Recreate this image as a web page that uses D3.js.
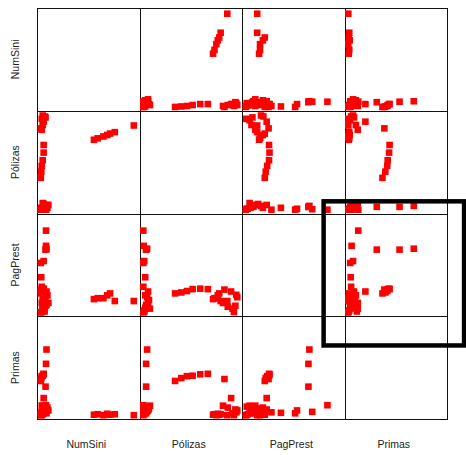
<!DOCTYPE html>
<html>
<head>
<meta charset="utf-8">
<script src="https://cdn.jsdelivr.net/npm/d3@7"></script>
<style>
  html, body { margin: 0; padding: 0; background: #fff; }
  svg { display: block; }
  text { font-family: "Liberation Sans", Arial, sans-serif; fill: #222; }
</style>
</head>
<body>
<svg id="chart" width="466" height="455"></svg>
<script>
// Variables of the scatterplot matrix
const variables = ["NumSini", "Pólizas", "PagPrest", "Primas"];

const numSini  = [0, 2, 4, 6, 8, 3, 5, 7, 1, 2, 4, 6,
                  5.5, 5.5, 5, 5.5, 6, 3, 0, 0.5,
                  0, 0.5, 1, 2, 3, 3,
                  2, 4, 1, 3, 3, 2, 0, 1, 5,
                  56, 60, 66, 70, 73, 78,
                  98];
const polizas  = [0, 1, 2, 3, 5, 6, 4, 2, 0, 7, 1, 5,
                  0, 0.5, 3, 3, 4, 1, 0, 2,
                  33.5, 40, 46, 52, 60, 68,
                  99, 98, 95.5, 94, 92.5, 89, 85.5, 84, 97,
                  73.5, 75, 77, 78.5, 80, 81.5,
                  88.5];
const pagPrest = [0, 2, 5, 8, 10, 13, 16, 18, 27, 4, 1, 22,
                  86, 70, 66, 66, 67, 54, 52, 37,
                  20, 21, 22.5, 24.5, 25, 24.5,
                  16, 18.5, 0.5, 4, 22, 6, 24, 10, 7,
                  14, 15, 15, 18, 20, 12,
                  12];
const primas   = [0, 1, 3, 2, 5, 7, 4, 8, 3, 10, 9, 6,
                  10.5, 3.5, 30, 54, 69, 5, 2, 2.5,
                  36, 39, 41, 41.5, 43, 43.5,
                  5, 3, 0, 2, 18, 8, 38, 10, 6,
                  0.5, 1, 0, 1.5, 0.5, 1,
                  0];

// Axis limits for each variable (before the 4% padding)
const axisLimits = [[0, 100], [0, 100], [0, 100], [0, 100]];

const columns = [numSini, polizas, pagPrest, primas];
const n = numSini.length;
const rows = d3.range(n).map(i => columns.map(c => c[i]));

const svg = d3.select("#chart");
svg.append("rect").attr("width", 466).attr("height", 455).attr("fill", "#fff");

const gridLeft = 37, gridTop = 8, cellW = 102.5, cellH = 102.75;
const k = variables.length;

function padded(lim) {
  const r = lim[1] - lim[0];
  return [lim[0] - 0.04 * r, lim[1] + 0.04 * r];
}

const xScales = axisLimits.map((lim, j) =>
  d3.scaleLinear().domain(padded(lim)).range([gridLeft + j * cellW, gridLeft + (j + 1) * cellW]));
const yScales = axisLimits.map((lim, i) =>
  d3.scaleLinear().domain(padded(lim)).range([gridTop + (i + 1) * cellH, gridTop + i * cellH]));

// cell frames
const cells = [];
for (let i = 0; i < k; i++) for (let j = 0; j < k; j++) cells.push({ i, j });

svg.append("g").selectAll("rect").data(cells).join("rect")
  .attr("x", d => Math.round(xScales[d.j].range()[0]) + 0.5)
  .attr("y", d => Math.round(yScales[d.i].range()[1]) + 0.5)
  .attr("width", d => Math.round(xScales[d.j].range()[1]) - Math.round(xScales[d.j].range()[0]))
  .attr("height", d => Math.round(yScales[d.i].range()[0]) - Math.round(yScales[d.i].range()[1]))
  .attr("fill", "none")
  .attr("stroke", "#111")
  .attr("stroke-width", 1);

// points
const s = 6.6;
const offDiag = cells.filter(d => d.i !== d.j);
const pg = svg.append("g");
offDiag.forEach(c => {
  pg.append("g").selectAll("rect").data(rows).join("rect")
    .attr("x", r => xScales[c.j](r[c.j]) - s / 2)
    .attr("y", r => yScales[c.i](r[c.i]) - s / 2)
    .attr("width", s)
    .attr("height", s)
    .attr("fill", "#ff0000");
});

// bottom labels
svg.append("g").selectAll("text").data(variables).join("text")
  .attr("x", (d, j) => (xScales[j].range()[0] + xScales[j].range()[1]) / 2 - 2)
  .attr("y", 448)
  .attr("text-anchor", "middle")
  .attr("font-size", "10.5px")
  .text(d => d);

// left labels
svg.append("g").selectAll("text").data(variables).join("text")
  .attr("transform", (d, i) => `translate(19,${(yScales[i].range()[0] + yScales[i].range()[1]) / 2}) rotate(-90)`)
  .attr("text-anchor", "middle")
  .attr("font-size", "10.5px")
  .text(d => d);

// highlight rectangle (PagPrest row / Primas column region)
const hx0 = xScales[3](-26), hx1 = xScales[3](122);
const hy0 = yScales[2](116.8), hy1 = yScales[3](73.3);
svg.append("rect")
  .attr("x", hx0).attr("y", hy0)
  .attr("width", hx1 - hx0).attr("height", hy1 - hy0)
  .attr("fill", "none")
  .attr("stroke", "#000")
  .attr("stroke-width", 4.5);
</script>
</body>
</html>
